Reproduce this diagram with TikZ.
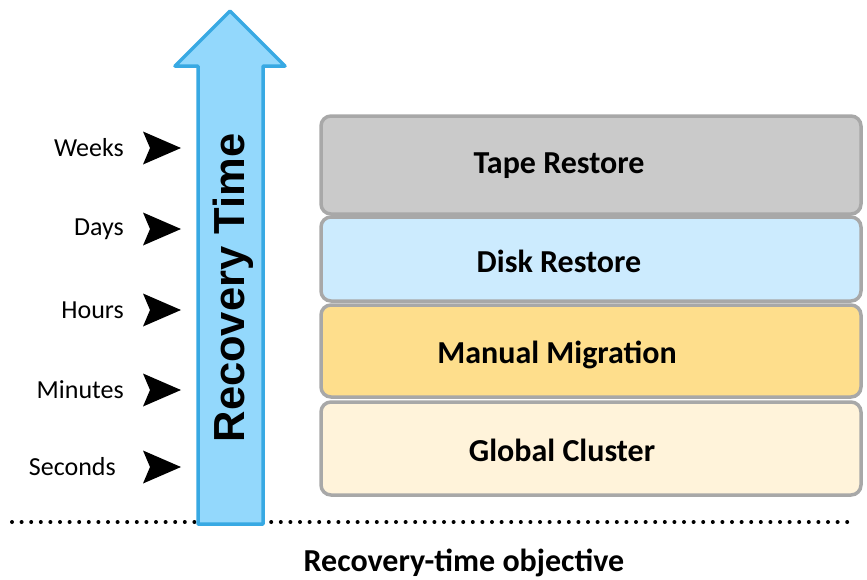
\documentclass[tikz,border=0pt]{standalone}
\usepackage{fontspec}
\setmainfont{Carlito}
\newfontfamily\arialbold{Liberation Sans}
\definecolor{arrfill}{HTML}{93D8FC}
\definecolor{arrline}{HTML}{38A9E3}
\definecolor{boxline}{HTML}{A8A8A8}
\definecolor{tapefill}{HTML}{CACACA}
\definecolor{diskfill}{HTML}{CCEBFE}
\definecolor{manfill}{HTML}{FEDE8C}
\definecolor{globfill}{HTML}{FFF3DA}
\tikzset{
  lvl/.style={rounded corners=10pt, draw=boxline, line width=3.5pt},
  lbl/.style={font=\fontsize{26}{30}\selectfont, anchor=east, inner sep=0pt},
  boxtxt/.style={font=\bfseries\fontsize{32}{36}\selectfont, inner sep=0pt},
  marker/.style={fill=black, draw=none}
}
\begin{document}
\begin{tikzpicture}[x=1pt,y=-1pt]
\useasboundingbox (0,0) rectangle (867,579);
% dotted baseline
\coordinate (dl) at (12,522);
\coordinate (dr) at (856,522);
\draw[line width=4pt, line cap=round, dash pattern=on 0pt off 9.6pt] (dl) -- (dr);
% big arrow
\draw[fill=arrfill, draw=arrline, line width=3.5pt, line join=round]
  (198,524) -- (198,66) -- (175,66) -- (230,11) -- (285,66) -- (263,66) -- (263,524) -- cycle;
\node[font=\arialbold\bfseries\fontsize{43.5}{48}\selectfont, rotate=90, inner sep=0pt] (rt) at (233,288) {Recovery Time};
% labels and markers
\foreach \n/\t/\x/\y in {w/Weeks/124/148, d/Days/124/229, h/Hours/124/310, m/Minutes/124/390, s/Seconds/116/467}{
  \node[lbl] (\n) at (\x,\y) {\t};
  \fill[marker] (143,\y-16.5) -- (181,\y) -- (143,\y+16.5) -- (150,\y) -- cycle;
}
% boxes
\draw[lvl, fill=tapefill] (321,116) rectangle (861,214);
\draw[lvl, fill=diskfill] (321,217) rectangle (861,301);
\draw[lvl, fill=manfill] (321,305) rectangle (861,397);
\draw[lvl, fill=globfill] (321,402) rectangle (861,495);
\node[boxtxt] (tape) at (559,166) {Tape Restore};
\node[boxtxt] (disk) at (559,261) {Disk Restore};
\node[boxtxt] (man) at (557,355) {Manual Migration};
\node[boxtxt] (glob) at (562,450) {Global Cluster};
% caption
\node[boxtxt] (cap) at (464,563) {Recovery-time objective};
\end{tikzpicture}
\end{document}
